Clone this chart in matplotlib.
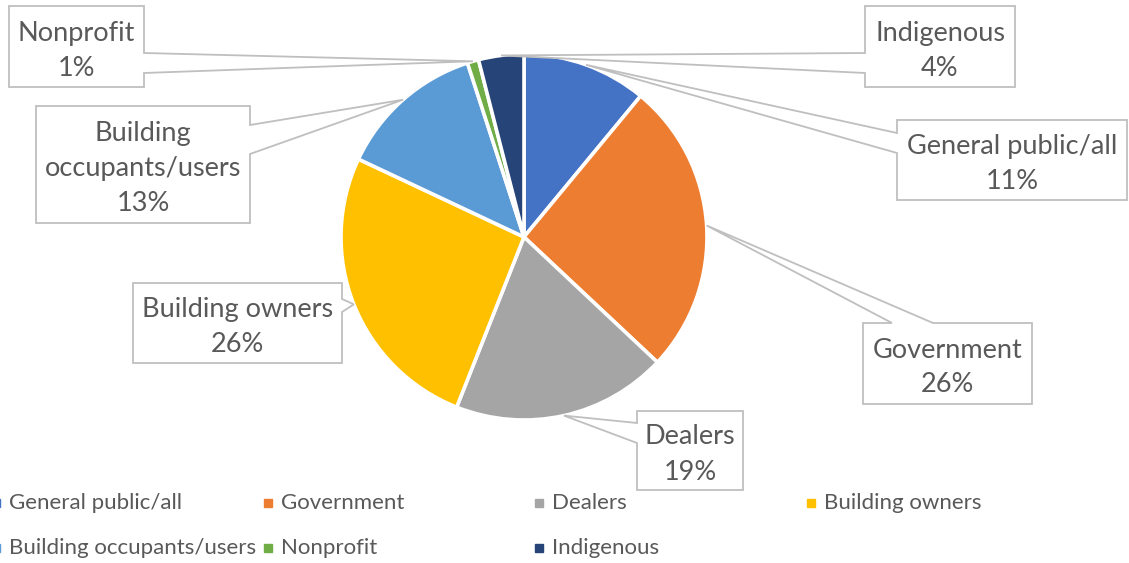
import numpy as np
import matplotlib
matplotlib.use("Agg")
import matplotlib.pyplot as plt
from matplotlib.patches import Polygon

W, H = 1129, 563

categories = ["General public/all", "Government", "Dealers", "Building owners",
              "Building occupants/users", "Nonprofit", "Indigenous"]
shares = [11, 26, 19, 26, 13, 1, 4]
colors = ["#4472C4", "#ED7D31", "#A5A5A5", "#FFC000", "#5B9BD5", "#70AD47", "#264478"]

# label boxes in pixel units (x0, top, x1, bottom), the side the pointer leaves from
# and the span of the pointer base along that side
callouts = {
    "General public/all": ((897, 120, 1127, 200), "left", (133, 153)),
    "Government": ((863, 323, 1032, 404), "top", (892, 933)),
    "Dealers": ((637, 411, 743, 490), "left", (423, 443)),
    "Building owners": ((133, 283, 342, 363), "right", (299, 312)),
    "Building occupants/users": ((36, 106, 250, 223), "right", (125, 154)),
    "Nonprofit": ((9, 6, 144, 87), "right", (53, 73)),
    "Indigenous": ((865, 6, 1015, 87), "left", (53, 73)),
}
wrapped = {"Building occupants/users": "Building\noccupants/users"}

TEXT = "#595959"
EDGE = "#BFBFBF"
plt.rcParams["font.family"] = ["Lato", "DejaVu Sans"]


def fy(y):
    # pixel rows count from the top, the axes from the bottom
    return H - y


def callout_path(box, side, base, tip):
    x0, y0, x1, y1 = box
    b0, b1 = base
    tx, ty = tip
    if side == "top":
        pts = [(x0, y0), (b0, y0), (tx, ty), (b1, y0), (x1, y0), (x1, y1), (x0, y1)]
    elif side == "right":
        pts = [(x0, y0), (x1, y0), (x1, b0), (tx, ty), (x1, b1), (x1, y1), (x0, y1)]
    elif side == "bottom":
        pts = [(x0, y0), (x1, y0), (x1, y1), (b1, y1), (tx, ty), (b0, y1), (x0, y1)]
    else:
        pts = [(x0, y0), (x1, y0), (x1, y1), (x0, y1), (x0, b1), (tx, ty), (x0, b0)]
    return [(x, fy(y)) for x, y in pts]


fig = plt.figure(figsize=(W / 100, H / 100), dpi=100)
ax = fig.add_axes([0, 0, 1, 1])

cx, cy, r = 524, fy(237), 183
wedges, _ = ax.pie(shares, colors=colors, startangle=90, counterclock=False,
                   center=(cx, cy), radius=r,
                   wedgeprops=dict(edgecolor="white", linewidth=2.6))

for wedge, name, share in zip(wedges, categories, shares):
    box, side, base = callouts[name]
    mid = np.deg2rad((wedge.theta1 + wedge.theta2) / 2)
    tip = (cx + r * np.cos(mid), H - (cy + r * np.sin(mid)))
    poly = Polygon(callout_path(box, side, base, tip), closed=True,
                   facecolor="white", edgecolor=EDGE, linewidth=1.3, zorder=3)
    ax.add_patch(poly)
    label = wrapped.get(name, name) + "\n" + f"{share}%"
    ax.text((box[0] + box[2]) / 2, fy((box[1] + box[3]) / 2 + 4), label,
            ha="center", va="center", fontsize=19.5, color=TEXT,
            linespacing=1.5, zorder=4)

# legend: four columns, two rows
leg_x = [-4, 268, 539, 811]
leg_y = [503, 548]
for i, (name, c) in enumerate(zip(categories, colors)):
    x = leg_x[i % 4]
    y = leg_y[i // 4]
    ax.plot([x], [fy(y)], marker="s", markersize=6, color=c, linestyle="none",
            clip_on=False)
    ax.text(x + 13, fy(y), name, ha="left", va="center", fontsize=16, color=TEXT)

ax.set_xlim(0, W)
ax.set_ylim(0, H)
ax.set_aspect("equal")
ax.axis("off")

fig.savefig("out.png", dpi=100, facecolor="white")
